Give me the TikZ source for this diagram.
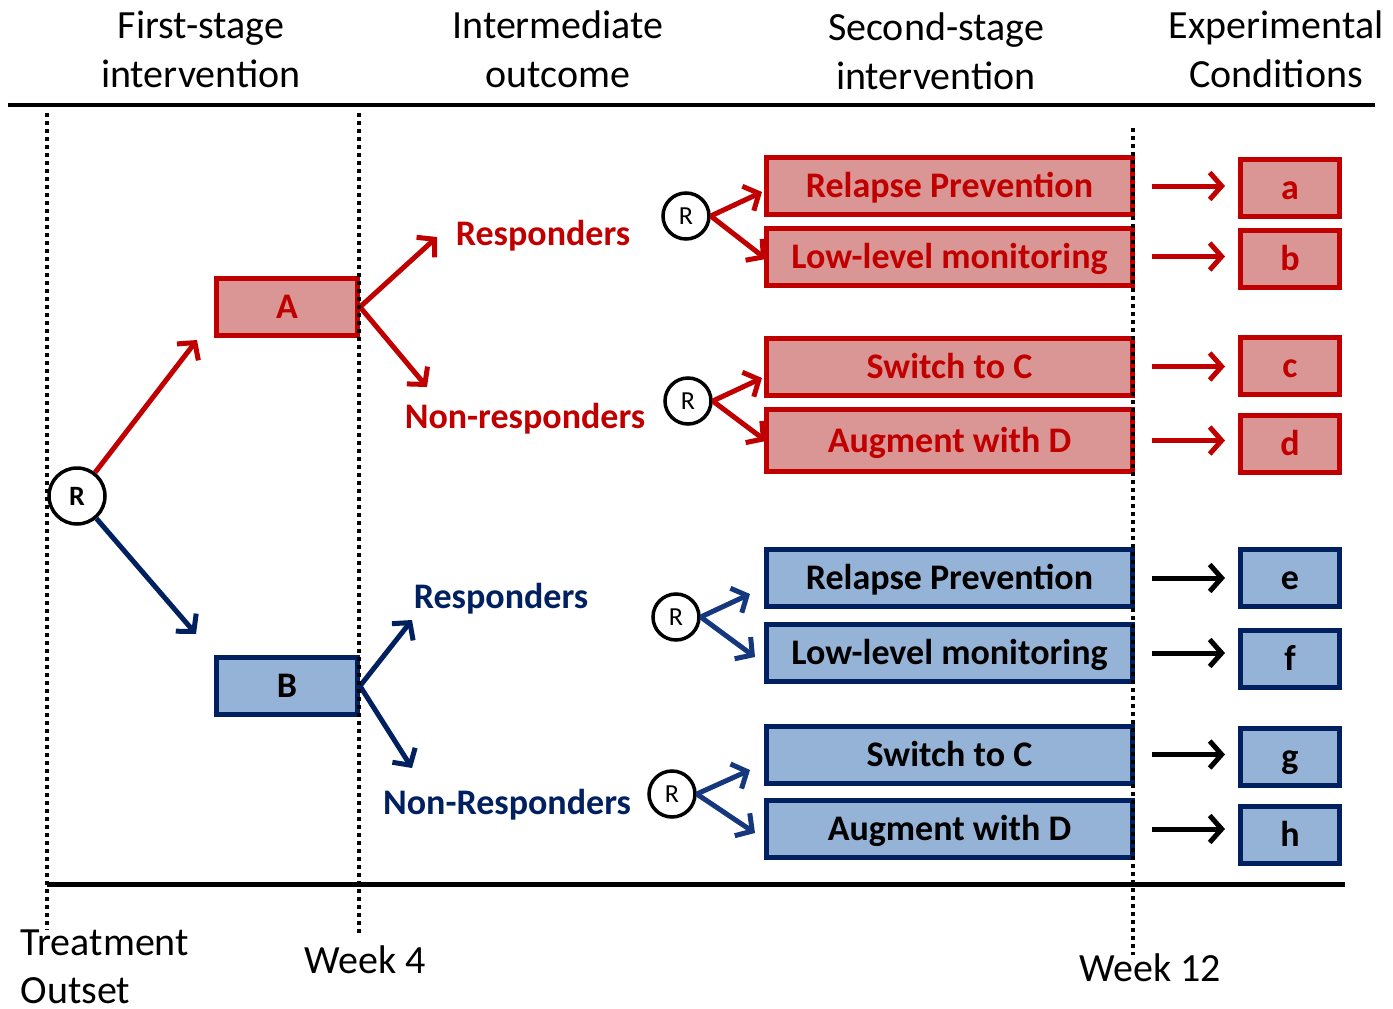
\documentclass[tikz,border=0pt]{standalone}
\usepackage{fontspec}
\setmainfont{Carlito}
\usetikzlibrary{arrows.meta}
\definecolor{redline}{RGB}{192,0,0}
\definecolor{redfill}{RGB}{217,150,148}
\definecolor{blueline}{RGB}{0,32,96}
\definecolor{bluefill}{RGB}{149,179,215}
\definecolor{bluearrow}{RGB}{20,55,125}
\begin{document}
\begin{tikzpicture}[x=1pt,y=-1pt,
  boxtext/.style={font=\bfseries\fontsize{36}{40}\selectfont, text height=29pt, text depth=6pt},
  redbox/.style={draw=redline, fill=redfill, line width=5pt, text=redline, inner sep=0pt, boxtext},
  bluebox/.style={draw=blueline, fill=bluefill, line width=5pt, text=black, inner sep=0pt, boxtext},
  stagebox/.style={minimum width=366pt, minimum height=57pt},
  condbox/.style={minimum width=99pt, minimum height=57pt},
  firstbox/.style={minimum width=141pt, minimum height=57pt},
  randsmall/.style={circle, draw=black, line width=3.5pt, fill=white, minimum size=46pt, inner sep=0pt,
    font=\fontsize{26}{30}\selectfont},
  randbig/.style={circle, draw=black, line width=3.5pt, fill=white, minimum size=56pt, inner sep=0pt,
    font=\bfseries\fontsize{28}{32}\selectfont},
  tip/.style={-{Straight Barb[length=12pt,width=27pt]}},
  redarrow/.style={draw=redline, line width=5pt, tip},
  bluearr/.style={draw=bluearrow, line width=5pt, tip},
  navyarrow/.style={draw=blueline, line width=5pt, tip},
  blackarrow/.style={draw=black, line width=5pt, tip},
  outarrow/.style={shorten <=17pt, shorten >=13pt},
  header/.style={align=center, font=\fontsize{40}{49}\selectfont},
  timelabel/.style={font=\fontsize{40}{48}\selectfont},
  redlabel/.style={text=redline, font=\bfseries\fontsize{36}{40}\selectfont},
  bluelabel/.style={text=blueline, font=\bfseries\fontsize{36}{40}\selectfont},
  timeline/.style={line width=4pt, dash pattern=on 4pt off 4pt}
]
\useasboundingbox (0,0) rectangle (1393,1009);

% column headings
\node[header] (h1) at (201,49) {First-stage\\intervention};
\node[header] (h2) at (558,49) {Intermediate\\outcome};
\node[header] (h3) at (936,51) {Second-stage\\intervention};
\node[header] (h4) at (1276,49) {Experimental\\Conditions};
\draw[line width=4pt] (8,105) -- (1375,105);

% first stage
\node[randbig] (R) at (77,496) {R};
\node[redbox, firstbox] (A) at (287,307) {A};
\node[bluebox, firstbox] (B) at (287,686) {B};

\coordinate (tA) at (197,340);
\coordinate (tB) at (196,634);
\draw[redarrow] (R) -- (tA);
\draw[navyarrow] (R) -- (tB);

% intermediate outcomes
\node[redlabel] (respA) at (543,236) {Responders};
\node[redlabel] (nonA) at (525,419) {Non-responders};
\node[bluelabel] (respB) at (501,599) {Responders};
\node[bluelabel] (nonB) at (507,805) {Non-Responders};

\coordinate (ta1) at (437,237);
\coordinate (ta2) at (427,387);
\coordinate (tb1) at (412,620);
\coordinate (tb2) at (412,768);
\draw[redarrow] (A.east) -- (ta1);
\draw[redarrow] (A.east) -- (ta2);
\draw[navyarrow] (B.east) -- (tb1);
\draw[navyarrow] (B.east) -- (tb2);

% second-stage randomisations
\node[randsmall] (r1) at (686,216) {R};
\node[randsmall] (r2) at (688,401) {R};
\node[randsmall] (r3) at (676,617) {R};
\node[randsmall] (r4) at (672,794) {R};

% second-stage options
\node[redbox, stagebox] (s1) at (949.5,186) {Relapse Prevention};
\node[redbox, stagebox] (s2) at (949.5,256.5) {Low-level monitoring};
\node[redbox, stagebox] (s3) at (949.5,366.5) {Switch to C};
\node[redbox, stagebox, minimum height=62pt] (s4) at (949.5,440.5) {Augment with D};
\node[bluebox, stagebox] (s5) at (949.5,578) {Relapse Prevention};
\node[bluebox, stagebox] (s6) at (949.5,653) {Low-level monitoring};
\node[bluebox, stagebox] (s7) at (949.5,754.5) {Switch to C};
\node[bluebox, stagebox] (s8) at (949.5,829) {Augment with D};

\coordinate (u1) at (762,192);
\coordinate (u2) at (766,259);
\coordinate (u3) at (762,378);
\coordinate (u4) at (766,441);
\coordinate (u5) at (750,594);
\coordinate (u6) at (755,657);
\coordinate (u7) at (750,770);
\coordinate (u8) at (755,833);
\draw[redarrow] (r1.east) -- (u1);
\draw[redarrow] (r1.east) -- (u2);
\draw[redarrow] (r2.east) -- (u3);
\draw[redarrow] (r2.east) -- (u4);
\draw[bluearr] (r3.east) -- (u5);
\draw[bluearr] (r3.east) -- (u6);
\draw[bluearr] (r4.east) -- (u7);
\draw[bluearr] (r4.east) -- (u8);

% experimental conditions
\node[redbox, condbox] (ca) at (1290,187.5) {a};
\node[redbox, condbox] (cb) at (1290,259) {b};
\node[redbox, condbox] (cc) at (1290,366) {c};
\node[redbox, condbox] (cd) at (1290,444) {d};
\node[bluebox, condbox] (ce) at (1290,578) {e};
\node[bluebox, condbox] (cf) at (1290,659) {f};
\node[bluebox, condbox] (cg) at (1290,756.5) {g};
\node[bluebox, condbox] (ch) at (1290,835) {h};

\draw[redarrow, outarrow] (s1.east) -- (s1.east -| ca.west);
\draw[redarrow, outarrow] (s2.east) -- (s2.east -| cb.west);
\draw[redarrow, outarrow] (s3.east) -- (s3.east -| cc.west);
\draw[redarrow, outarrow] (s4.east) -- (s4.east -| cd.west);
\draw[blackarrow, outarrow] (s5.east) -- (s5.east -| ce.west);
\draw[blackarrow, outarrow] (s6.east) -- (s6.east -| cf.west);
\draw[blackarrow, outarrow] (s7.east) -- (s7.east -| cg.west);
\draw[blackarrow, outarrow] (s8.east) -- (s8.east -| ch.west);

% time axis
\draw[timeline] (47,113) -- (47,930);
\draw[timeline] (359,113) -- (359,935);
\draw[timeline] (1133,128) -- (1133,955);
\draw[line width=5pt] (47,884) -- (1345,884);

\node[timelabel, align=left, anchor=west] (t0) at (17,967) {Treatment\\Outset};
\node[timelabel] (t4) at (365,960) {Week 4};
\node[timelabel] (t12) at (1150,968) {Week 12};
\end{tikzpicture}
\end{document}
